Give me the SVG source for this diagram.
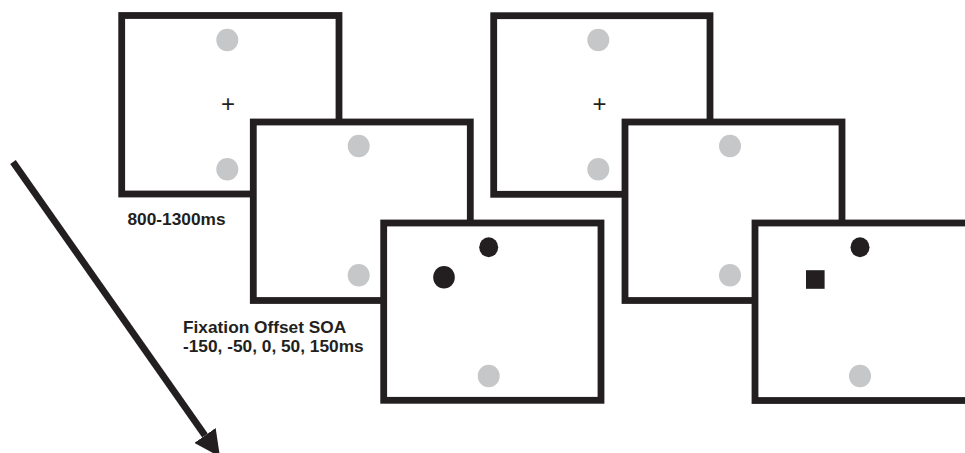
<svg xmlns="http://www.w3.org/2000/svg" width="965" height="453" viewBox="0 0 965 453">
<style>
.frame{fill:#fff;stroke:#231f20;stroke-width:6.8}
.g{fill:#c6c7c9}
.k{fill:#231f20}
.lbl{font-family:"Liberation Sans",Arial,sans-serif;font-weight:bold;font-size:17.3px;fill:#231f20}
.fix{font-family:"Liberation Sans",Arial,sans-serif;font-size:24px;fill:#231f20}
</style>
<defs>
<marker id="ah" markerUnits="userSpaceOnUse" markerWidth="26" markerHeight="26" viewBox="0 0 23 23" refX="0" refY="11.5" orient="auto">
<path d="M0,0 L23,11.5 L0,23 Z" fill="#231f20"/>
</marker>
</defs>
<rect width="965" height="453" fill="#fff"/>
<g id="connectors">
<line x1="13" y1="162" x2="205" y2="435.5" stroke="#231f20" stroke-width="6.8" marker-end="url(#ah)"/>
</g>
<g id="trial1-fixation">
<rect class="frame" x="121.7" y="15.5" width="217.3" height="178.5"/>
<ellipse class="g" cx="227.3" cy="40" rx="11" ry="11.3"/>
<ellipse class="g" cx="227.3" cy="169.3" rx="11" ry="11.3"/>
<text class="fix" x="228" y="112" text-anchor="middle">+</text>
</g>
<g id="trial1-gap">
<rect class="frame" x="253.3" y="122" width="217" height="178.5"/>
<ellipse class="g" cx="358.7" cy="146" rx="11" ry="11.3"/>
<ellipse class="g" cx="358.7" cy="275.3" rx="11" ry="11.3"/>
</g>
<g id="trial1-target">
<rect class="frame" x="383.7" y="223" width="217.3" height="177.3"/>
<ellipse class="k" cx="488.7" cy="247.3" rx="9.5" ry="10"/>
<ellipse class="k" cx="444" cy="277.3" rx="10.8" ry="11.3"/>
<ellipse class="g" cx="488.7" cy="376" rx="11" ry="11.3"/>
</g>
<g id="trial2-fixation">
<rect class="frame" x="493.7" y="15.7" width="216.3" height="178.6"/>
<ellipse class="g" cx="598.3" cy="40" rx="11" ry="11.3"/>
<ellipse class="g" cx="598.3" cy="169.3" rx="11" ry="11.3"/>
<text class="fix" x="599.5" y="112" text-anchor="middle">+</text>
</g>
<g id="trial2-gap">
<rect class="frame" x="625" y="122" width="217" height="178.5"/>
<ellipse class="g" cx="730" cy="146" rx="11" ry="11.3"/>
<ellipse class="g" cx="730" cy="275.3" rx="11" ry="11.3"/>
</g>
<g id="trial2-target">
<rect class="frame" x="755" y="223" width="217" height="177.5"/>
<ellipse class="k" cx="860" cy="247.3" rx="9.5" ry="10"/>
<rect class="k" x="806" y="270.2" width="18.6" height="18.6"/>
<ellipse class="g" cx="860" cy="376" rx="11" ry="11.3"/>
</g>
<g id="labels">
<text class="lbl" x="127.5" y="225">800-1300ms</text>
<text class="lbl" x="183" y="332.8">Fixation Offset SOA</text>
<text class="lbl" x="183" y="352.4">-150, -50, 0, 50, 150ms</text>
</g>
</svg>
